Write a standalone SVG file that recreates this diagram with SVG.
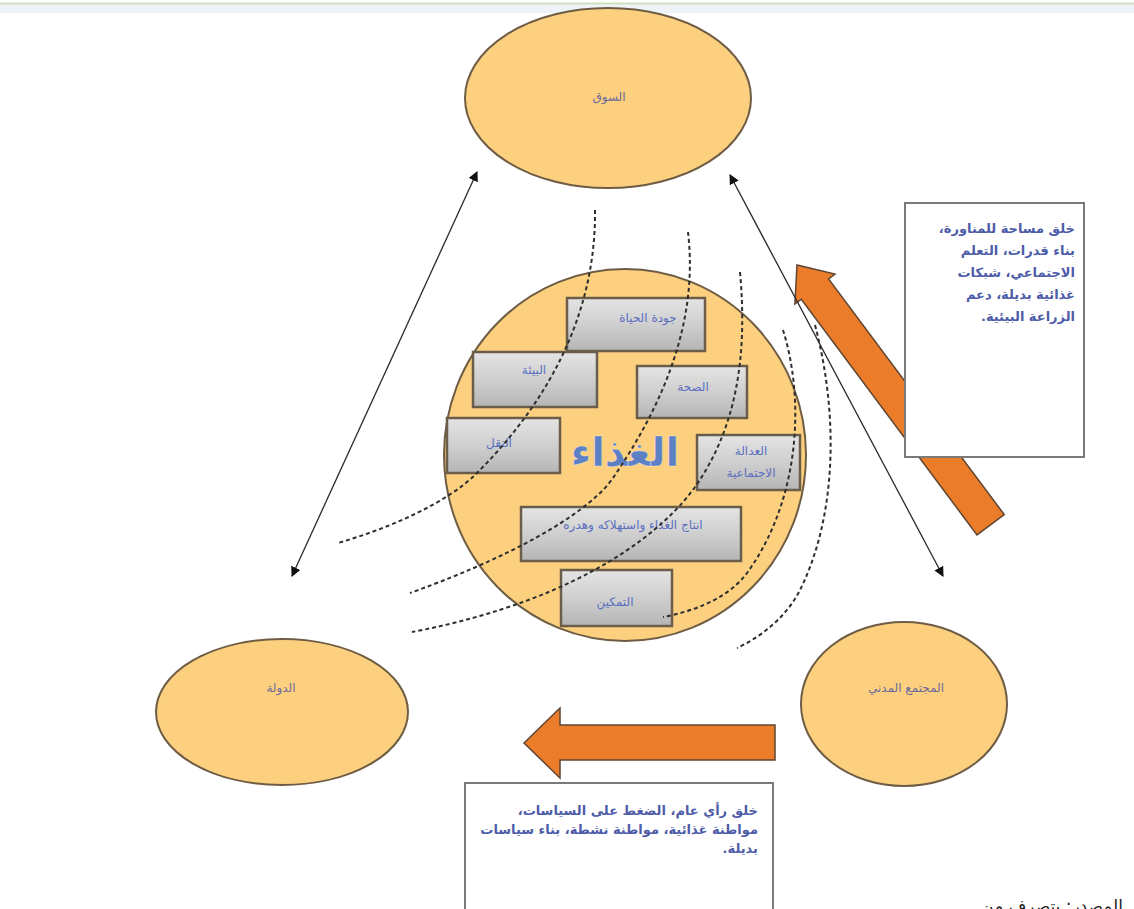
<svg xmlns="http://www.w3.org/2000/svg" width="1134" height="909" viewBox="0 0 1134 909">
  <style>
    .ar { font-family: "DejaVu Sans", "Noto Sans", sans-serif; direction: rtl; unicode-bidi: embed; }
    .node { fill: #fdd07f; stroke: #6e5c44; stroke-width: 2; }
    .nodeLabel { font-size: 12px; fill: #6c6a9c; text-anchor: middle; }
    .box { fill: url(#boxFill); stroke: #6a5e4a; stroke-width: 2.5; }
    .boxLabel { font-size: 12px; fill: #5a6ec0; text-anchor: middle; }
    .link { stroke: #2a2a2a; stroke-width: 1.3; fill: none; marker-start: url(#tip); marker-end: url(#tip); }
    .dash { stroke: #2e2e2e; stroke-width: 2; fill: none; stroke-dasharray: 4 3; }
    .push { fill: #eb7d2a; stroke: #5e4532; stroke-width: 1.5; stroke-linejoin: miter; }
    .note { fill: #ffffff; stroke: #7a7a7a; stroke-width: 2; }
    .noteText { font-size: 13px; font-weight: bold; fill: #4d5ca8; text-anchor: start; }
  </style>
  <defs>
    <linearGradient id="boxFill" x1="0" y1="0" x2="0" y2="1">
      <stop offset="0" stop-color="#e4e4e4"/>
      <stop offset="0.5" stop-color="#cfcfcf"/>
      <stop offset="1" stop-color="#b5b5b5"/>
    </linearGradient>
    <marker id="tip" viewBox="0 0 10 10" refX="9" refY="5" markerWidth="10" markerHeight="10" markerUnits="userSpaceOnUse" orient="auto-start-reverse">
      <path d="M0,0 L10,5 L0,10 z" fill="#111"/>
    </marker>
  </defs>

  <!-- page background and top rule -->
  <rect width="1134" height="909" fill="#ffffff"/>
  <rect x="0" y="4" width="1134" height="9" fill="#eef3f8"/>
  <line x1="0" y1="3.5" x2="1134" y2="3.5" stroke="#cfe0c0" stroke-width="2"/>

  <!-- connectors between the three actors -->
  <g id="connectors">
    <line class="link" x1="292" y1="576" x2="477" y2="172"/>
    <!-- push arrows -->
    <polygon class="push" points="0,0 -30,-25 -30,-17 -324,-17 -324,17 -30,17 -30,25" transform="translate(797,265) rotate(-126.7)"/>
    <polygon class="push" points="524,743 560,708 560,725 775,725 775,760 560,760 560,778"/>
    <line class="link" x1="943" y1="576" x2="730" y2="175"/>
  </g>

  <!-- actors -->
  <g id="market">
    <ellipse class="node" cx="608" cy="98" rx="143" ry="90"/>
    <text class="ar nodeLabel" x="609" y="101">السوق</text>
  </g>
  <g id="state">
    <ellipse class="node" cx="282" cy="712" rx="126" ry="73"/>
    <text class="ar nodeLabel" x="281" y="692">الدولة</text>
  </g>
  <g id="civil-society">
    <ellipse class="node" cx="904" cy="704" rx="103" ry="82"/>
    <text class="ar nodeLabel" x="906" y="692">المجتمع المدني</text>
  </g>

  <!-- food at the centre -->
  <g id="food">
    <ellipse class="node" cx="625" cy="455" rx="181" ry="186"/>
    <text class="ar" x="625" y="466" font-size="40" font-weight="bold" fill="#5d80c4" text-anchor="middle" stroke="#ffffff" stroke-width="0.6" stroke-opacity="0.5">الغذاء</text>
  </g>

  <g id="quality-of-life">
    <rect class="box" x="567" y="298" width="138" height="53"/>
    <text class="ar boxLabel" x="648" y="322">جودة الحياة</text>
  </g>
  <g id="environment">
    <rect class="box" x="473" y="352" width="124" height="55"/>
    <text class="ar boxLabel" x="534" y="374">البيئة</text>
  </g>
  <g id="health">
    <rect class="box" x="637" y="366" width="110" height="52"/>
    <text class="ar boxLabel" x="693" y="391">الصحة</text>
  </g>
  <g id="transport">
    <rect class="box" x="447" y="418" width="113" height="55"/>
    <text class="ar boxLabel" x="499" y="447">النقل</text>
  </g>
  <g id="social-justice">
    <rect class="box" x="697" y="435" width="103" height="55"/>
    <text class="ar boxLabel" x="751" y="455" font-size="10.5">العدالة</text>
    <text class="ar boxLabel" x="751" y="477" font-size="10.5">الاجتماعية</text>
  </g>
  <g id="production">
    <rect class="box" x="521" y="507" width="220" height="54"/>
    <text class="ar boxLabel" x="633" y="529">انتاج الغذاء واستهلاكه وهدره</text>
  </g>
  <g id="empowerment">
    <rect class="box" x="561" y="570" width="111" height="56"/>
    <text class="ar boxLabel" x="615" y="606">التمكين</text>
  </g>

  <!-- dashed sweeps across the food circle -->
  <g id="sweeps">
    <path class="dash" d="M595,210 C596,300 560,390 477,473 C447,503 390,528 338,543"/>
    <path class="dash" d="M688,232 C696,300 680,380 613,478 C593,507 530,550 410,593"/>
    <path class="dash" d="M740,272 C748,360 735,430 695,487 C668,525 590,598 412,632"/>
    <path class="dash" d="M783,330 C805,400 800,500 747,573 C727,600 690,612 663,617"/>
    <path class="dash" d="M815,325 C840,420 835,520 800,590 C788,614 765,635 737,648"/>
  </g>

  <!-- notes -->
  <g id="note-right">
    <rect class="note" x="905" y="203" width="179" height="254"/>
    <text class="ar noteText" x="1075" y="233">خلق مساحة للمناورة،</text>
    <text class="ar noteText" x="1075" y="255">بناء قدرات، التعلم</text>
    <text class="ar noteText" x="1075" y="277">الاجتماعي، شبكات</text>
    <text class="ar noteText" x="1075" y="299">غذائية بديلة، دعم</text>
    <text class="ar noteText" x="1075" y="321">الزراعة البيئية.</text>
  </g>
  <g id="note-bottom">
    <rect class="note" x="465" y="783" width="308" height="140"/>
    <text class="ar noteText" x="758" y="815">خلق رأي عام، الضغط على السياسات،</text>
    <text class="ar noteText" x="758" y="834">مواطنة غذائية، مواطنة نشطة، بناء سياسات</text>
    <text class="ar noteText" x="758" y="853">بديلة.</text>
  </g>

  <text class="ar" x="1123" y="912" font-size="17" fill="#222222" text-anchor="start">المصدر: بتصرف من</text>
</svg>
